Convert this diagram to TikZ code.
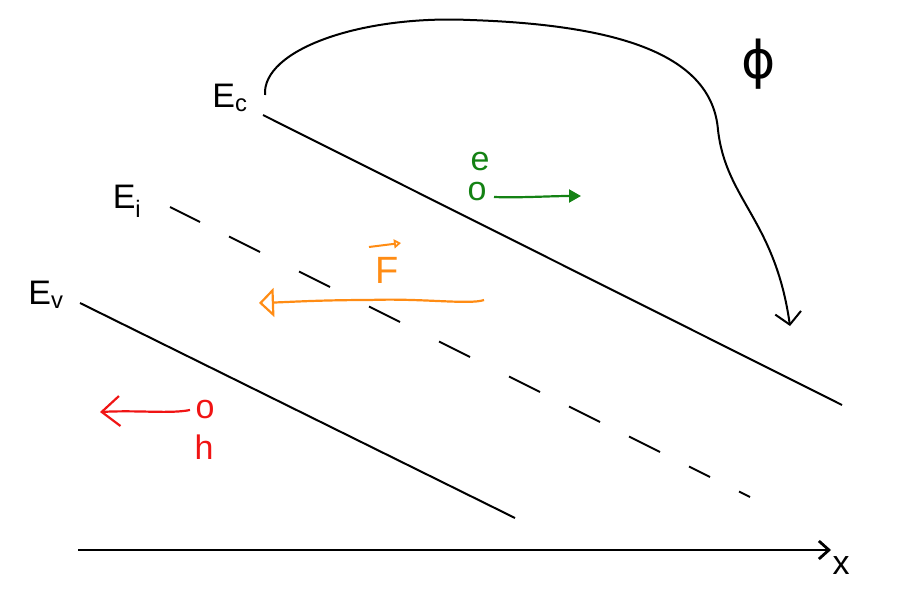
\documentclass[tikz,border=0pt]{standalone}
\usepackage{fontspec}
\setmainfont{Liberation Sans}
\newfontfamily\phifont{DejaVu Sans}
\usetikzlibrary{arrows.meta}
\definecolor{egreen}{RGB}{20,130,20}
\definecolor{forange}{RGB}{255,140,20}
\definecolor{hred}{RGB}{240,20,20}
\begin{document}
\begin{tikzpicture}[x=1pt,y=-1pt,
  band/.style={line width=2pt,black},
  lbl/.style={inner sep=0pt,font=\fontsize{34}{36}\selectfont},
  carrow/.style={line width=2.2pt}]
\useasboundingbox (0,0) rectangle (897,591);
% band edges
\coordinate (c1) at (263,115); \coordinate (c2) at (842,405);
\coordinate (v1) at (80,303);  \coordinate (v2) at (515,518);
\draw[band] (c1) -- (c2);
\foreach \a/\b in {170/200,229/260,299/330,369/400,439/470,509/540,569/600,629/660,689/710,739/750}
  \draw[band] (\a,{207+0.5*(\a-170)}) -- (\b,{207+0.5*(\b-170)});
\draw[band] (v1) -- (v2);
\node[lbl] (Ec) at (230,98) {E\textsubscript{c}};
\node[lbl] (Ei) at (127,201) {E\textsubscript{i}};
\node[lbl] (Ev) at (46,295) {E\textsubscript{v}};
% axis
\coordinate (a1) at (78,550); \coordinate (a2) at (831,550);
\draw[line width=2.8pt,-{Straight Barb[length=10pt,width=18pt]}] (a1) -- (a2);
\node[lbl] (xl) at (841,566) {x};
% phi curve
\coordinate (p1) at (265,95); \coordinate (p2) at (790,326);
\draw[band,-{Straight Barb[length=12pt,width=26pt]}] (p1) .. controls (262,50) and (360,15) .. (470,20)
  .. controls (620,25) and (712,55) .. (718,130) .. controls (726,200) and (775,220) .. (p2);
\node[inner sep=0pt,font=\phifont\fontsize{52}{54}\selectfont] (phi) at (759,64) {ϕ};
% electron
\node[lbl,text=egreen] (el) at (480,162) {e};
\node[lbl,text=egreen] (eo) at (477,192) {o};
\coordinate (g1) at (494,197); \coordinate (ge) at (581,196);
\draw[carrow,egreen,-{Triangle[length=12pt,width=13pt]}] (g1) .. controls (520,198) and (550,196) .. (ge);
% force
\node[lbl,text=forange,font=\fontsize{38}{40}\selectfont] (F) at (387,270) {F};
\coordinate (fv1) at (369,247); \coordinate (fv2) at (401,243);
\draw[line width=2pt,forange,-{Triangle[open,length=7pt,width=9pt]}] (fv1) -- (fv2);
\coordinate (f1) at (484,300); \coordinate (f2) at (259,303);
\draw[carrow,forange,-{Triangle[open,length=15pt,width=29pt]}] (f1) .. controls (470,305) and (420,298) .. (370,300) .. controls (320,300) and (290,302) .. (f2);
% hole
\node[lbl,text=hred] (ho) at (205,410) {o};
\node[lbl,text=hred] (hh) at (204,447) {h};
\coordinate (h1) at (190,410); \coordinate (h2) at (100,412);
\draw[carrow,hred,-{Straight Barb[length=18pt,width=30pt]}] (h1) .. controls (170,414) and (140,410) .. (h2);
\end{tikzpicture}
\end{document}
